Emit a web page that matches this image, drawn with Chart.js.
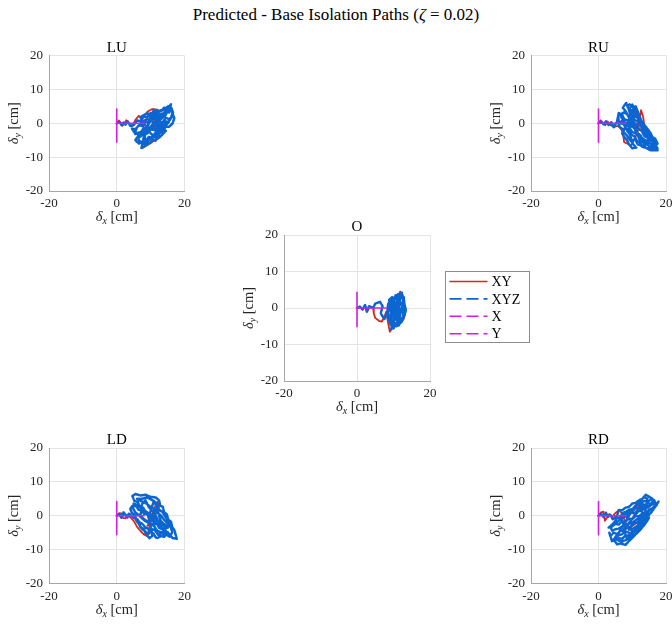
<!DOCTYPE html>
<html>
<head>
<meta charset="utf-8">
<script src="https://cdn.jsdelivr.net/npm/chart.js@4.4.1/dist/chart.umd.min.js"></script>
<style>
  body { margin: 0; background: #fff; }
  #wrap { position: relative; width: 672px; height: 624px; overflow: hidden; }
  #wrap canvas { position: absolute; left: 0; top: 0; }
  #title { position: absolute; left: 0; top: 5px; width: 672px; text-align: center;
           font-size: 17px; font-family: "Liberation Serif", LiberationSerif, "Times New Roman", Times, Tinos, "DejaVu Serif", serif; color: #000; }
</style>
</head>
<body>
<div id="wrap">
  <div id="title">Predicted - Base Isolation Paths (<i>ζ</i> = 0.02)</div>
  <canvas id="cLU" width="672" height="624"></canvas>
  <canvas id="cRU" width="672" height="624"></canvas>
  <canvas id="cO" width="672" height="624"></canvas>
  <canvas id="cLD" width="672" height="624"></canvas>
  <canvas id="cRD" width="672" height="624"></canvas>
</div>
<script>
// paths, [dx, dy] in cm

const seriesNames = ['XY', 'XYZ', 'X', 'Y'];
const xTicks = [-20, 0, 20];
const yTicks = [-20, -10, 0, 10, 20];

// pure X and pure Y excitation (same in every panel)
const xOnlyX = [0, 3, 1, 8.2, 2, 6.5, 0.5, 7.8, 0];
const yOnlyY = [0, 4.3, -2, 3, -5.6, 1, -4.5, 4, 0];

const luXY = [[0,0],[0.6,0.8],[1.2,0.2],[1.6,-0.8],[2.2,-0.2],[2.8,0.9],[3.5,0.2],[4.5,-1],[5.5,1],[6.5,2.2],[7.5,1.2],[8,-2],[8.5,-5.5],[8,-7],[9.5,-6.2],[10.5,-4.8],[11.5,-5.3],[12,-3.5],[11,-1],[10,1.5],[9,3.4],[10.5,4.2],[12,4],[11,0],[12.5,-1],[13.5,-3],[14.3,-1.5],[12,1],[10,-1],[9,-3],[10,-2],[11,-1]];
const luXYZ = [[0,0],[0.8,0.4],[1.4,-0.5],[2,0.3],[2.6,-0.4],[3.2,0.6],[4,-0.8],[5,-0.5],
  [6,0.8],[7,0.6],[8,2],[9,1.8],[10,3],[11,2.6],[12,3.8],[13,3.4],[14,4.6],[15,4.4],[16,5.6],
  [15.5,3.2],[14.5,3.4],[13.5,2.2],[12.5,2.4],[11.5,1.2],[10.5,1.4],[9.5,0.2],[8.5,0.4],[7.5,-0.8],[6.5,-0.6],[5.5,-1.8],[4.5,-1.6],
  [5.5,-3.2],[6.5,-2.8],[7.5,-2.4],[8.5,-1.4],[9.5,-1.8],[10.5,-0.4],[11.5,-0.8],[12.5,0.6],[13.5,0.2],[14.5,1.6],[15.5,1.2],[16.5,2.2],
  [15,0],[14,-0.2],[13,-1.2],[12,-1],[11,-2],[10,-1.8],[9,-3],[8,-2.8],[7,-4],[6,-4.2],[5.5,-5],
  [6.5,-6],[7.5,-5.4],[8.5,-5.2],[9.5,-4],[10.5,-4.4],[11.5,-3],[12.5,-3.2],[13.5,-2],[14.5,-2.2],
  [13,-3.8],[12,-4.6],[11,-5],[10,-5.8],[9,-6.2],[8,-7],[7.3,-7.3],
  [8,-4],[9,-1],[10,2],[11,4],[12,1],[13,-2],[12,-4.5],[10,-3],[8,0],[7,1.8],[9,3],[11,0],[13,2],[14.5,3.8],[16,4],[17,1.5],[16.5,0],[15.5,-1],[14,-1],[12,-2.5],[10,-1],
  [9,-2],[8,-3.6],[6.8,-3.4],[7.8,-1.6],[9,-1],[10,0.8],[11,1.8],[12,2.8],[13,2.6],[14,3],[15,3.6],[14.4,2.4],[13,1.2],[12,0.2],[11,-0.6],[10,-1.2],[9,-2],[8,-4.5],[9.5,-5],[10.8,-3.6],[12,-2],[13,-0.4],[14.2,0.6],[15.4,0.4],[14.2,-1],[13,-2.6],[11.6,-3.8],[10,-4.6],[8.8,-5.8],[7.6,-6.2],[6.5,-5],[6.2,-3],[5.4,-2.6],[6,-1.2],[7.2,0],[8.4,1],[9.6,1.2],[10.6,2.2],[11.8,2.4],[12.8,3.8],[14,4],[15.2,5],[16,4.8],[16.6,3.2],[16,1.8]];

const ruXY = [[0,0],[0.6,0.9],[1.3,-0.1],[2,-0.6],[2.7,0.5],[3.5,-0.5],[4.6,-1.1],[5.8,-0.8],[6.5,-1.5],[7.2,-2.6],[7.6,-5.6],[8.9,-6.2],[9.6,-6.6],[10.5,-5],[11.5,-3],[12,-0.5],[12.6,3.9],[13.2,2],[13.5,0],[12.5,-2],[11,-1],[10,1],[11,2.5],[12,1],[11,-1.5]];
const ruXYZ = [[0,0],[0.8,0.5],[1.5,-0.3],[2.2,0.6],[3,-0.5],[3.8,0.3],[4.5,-1.2],[5.5,0.5],
  [6,3],[7,2.6],[7.6,1.2],[8.8,0.8],[9.4,-0.8],[10.6,-1.4],[11.2,-2.8],[12.4,-3.4],[13,-4.8],[14.2,-5.4],[15,-7],
  [16.5,-6.5],[17.5,-6],[16.8,-4.6],[15.8,-4],[15,-2.6],[14,-2],[13.4,-0.4],[12.2,0.2],[11.6,1.6],[10.4,2.2],[9.8,3.8],[8.8,4.4],[8.2,6],
  [7.2,4.6],[8,3.6],[8.8,2.2],[9.6,1.8],[10.4,0.2],[11.2,-0.2],[12,-1.8],[12.8,-2.2],[13.6,-3.8],[14.4,-4.2],[15.2,-5.8],[16.2,-6.6],[17.5,-8],
  [15.5,-8],[14,-7.2],[13,-7],[12.2,-5.6],[11.4,-5.2],[10.6,-3.8],[9.8,-3.4],[9,-2],[8.2,-1.6],[7.4,-0.2],[6.6,0],[5.6,1.2],
  [6.2,-1],[7,-1.6],[7.6,-2.8],[8.4,-3.6],[9,-4.6],[9.8,-5.4],[10.4,-6.4],[11.2,-7.2],
  [10,-7.4],[9.2,-6.4],[8.4,-5],[7.6,-4],[7,-3],
  [8,-1],[9,1],[10,3],[11,5],[12,2.5],[13,0],[14,-3],[15,-5],[13.5,-6],[12,-4.5],[11,-2],[10,0.5],[9,4],[10,5.5],[11,4],[12.5,1],[14,-1],[15.5,-3],[16.5,-5.5],[17.5,-7.5],
  [11,-3],[10,-2.6],[9,-1.2],[8,0],[7,1.4],[6.4,2.4],[7.4,3.2],[8.4,2.8],[9.4,1],[10.2,-0.8],[11,-1.6],[11.8,-3.6],[12.8,-4.2],[13.6,-5.8],[14.6,-6.4],[15.6,-7.4],[16.6,-7.6],[16,-5.6],[15,-4],[14.2,-3.2],[13.4,-1.8],[12.6,-1],[11.8,0.6],[11,0.8],[10.4,1.4],[9.4,3],[8.6,5],[9.2,5.6],[10.2,4.6],[10.8,3],[11.8,2],[12.2,0.8],[13,-1.2],[13.8,-2.8],[14.8,-3.2],[15.6,-4.6],[14.6,-5],[13.8,-6.6],[12.6,-6.6],[11.6,-6.2],[10.8,-4.6],[10,-5.4],[9.2,-3.2],[8.6,-2.4],[7.8,-0.8],[6.8,0.6],[6.2,-0.2],[5.8,2]];

const oXY = [[0,0],[0.8,0.5],[1.5,-0.5],[2.2,0.8],[2.8,-1],[3.5,0.3],[4.4,0.2],[4.6,-1.5],[5,-2.7],[6,-3.5],[6.8,-3.7],[7.5,-2.5],[8,-1],[8.5,-4],[9,-6.5],[9.8,-5],[10.5,-3],[11,0],[11.5,2.5],[11.8,4.5],[12.5,3.5],[12.8,1],[13.2,-1.4],[12.8,-3],[12,-4],[11,-2],[10,0],[9.5,-2]];
const oXYZ = [[0,0],[0.8,0.3],[1.5,-0.4],[2.2,0.8],[2.7,-1],[3.3,0.5],[4.4,0],[5,1.2],[6.3,1.7],[7,0.5],[6.5,-1.5],[7.5,-3],[8.3,-1.5],
  [8.5,1],[9,2],[9.5,0.5],[9.2,-2],[9.6,-4],[9.4,-5.8],[10,-4.5],[10.2,-2],[9.9,0],[10.3,2.5],[10.6,3.5],[11,1.5],[10.8,-1],[11.2,-3.5],[10.8,-5],[11.6,-4.2],[11.8,-2],[11.4,0.5],[11.8,2.5],[12.3,4.2],[12.6,2],[12.3,-0.5],[12.7,-2.5],[12.2,-3.8],[13,-2],[13.4,-0.5],[13,1],[12.8,3],[12,3.5],[11.5,3],[10.5,1],[9.5,-1],[8.8,-3],[8.3,-2],[8.8,0],[9.5,2.5],[10.5,-0.5],[11.5,-2],[12.5,0.5],[13,-1.5],[12,-4],[10.5,-3],[9.5,-2],[10,0.5],[11,-0.5],[12,1.5],
  [11,-1.5],[10.2,-3.2],[9.8,-1.5],[9.2,0.8],[8.8,2.2],[9.7,3],[10.4,1.2],[11.4,2],[11.2,3.8],[12,4],[12.4,3],[12.8,1.4],[13.2,-0.4],[12.6,-1.6],[11.8,-0.2],[11.4,-1.6],[12,-3],[11.6,-3.4],[10.6,-4.2],[10,-5.6],[9.2,-4.6],[8.6,-2.6],[8.4,-0.6],[9.6,-0.6],[10.6,-2.2],[11.4,-4.8],[12.4,-3]];

const ldXY = [[0,0],[0.7,0.8],[1.4,0.7],[1.8,-0.6],[2.6,-0.8],[3.2,0.3],[4,-0.5],[5,-1.5],[6,-3.3],[7,-4.5],[8,-5.5],[9,-6],[9.5,-4],[10,-1],[11,2],[12,4.2],[12.5,3],[12.3,1.5],[11,0],[10,-2],[9,-3],[10,-1.5],[11,0.5]];
const ldXYZ = [[0,0],[0.8,0.4],[1.4,-0.6],[2,1],[2.6,0.3],[3.2,-0.5],[3.6,0.6],
  [4.5,-0.2],[5.2,-0.8],[6,-1],[6.8,-2],[7.6,-2.4],[8.4,-3.4],[9.2,-3.8],[10,-4.8],[10.8,-5.2],[11.5,-6.4],[12,-6.6],
  [13,-6],[14,-6.2],[14.8,-5],[14.2,-4],[13.2,-3.6],[12.6,-2.4],[11.6,-2],[11,-0.8],[10,-0.4],[9.4,0.8],[8.4,1.2],[7.8,2.4],[6.8,2.8],[6.2,4],[5.2,4.4],[4.6,5.8],
  [5.5,6.4],[7,6],[8.5,6.2],[10,5.6],[11.5,5.4],[12.5,4.6],[12.8,3],[13.6,2.6],[14,1],[14.8,0.4],[15.2,-1.2],[16,-1.8],[16.4,-3.4],[17,-4.2],[17.7,-6.8],
  [16.5,-6.6],[15.6,-5.6],[15,-4.8],[14.2,-4.8],[13.5,-4],[12.5,-3.6],[12,-2.6],[11,-2.2],[10.5,-1.2],[9.5,-0.8],[9,0.4],[8,0.6],[7.4,1.6],[6.4,1.8],[5.8,2.8],[4.6,3],[4,2],
  [4.5,0.8],[5.4,0.2],[5.8,-1.5],[6.8,-2.8],[7.5,-4],[8.5,-4.6],[9,-5.8],[9.6,-6.6],[10.5,-6],
  [10,-3],[9.5,-1],[10,1.5],[10.5,3],[11,4.4],[12,2],[12.5,0],[13,-1.5],[14,-2.5],[15,-3],[13.5,-5],[12,-4.5],[11,-3],[8,-1],[7,0],[7.5,3.5],[8.5,4.5],[9.5,2.5],[11,1],[12,-1],
  [10.5,-2.8],[9.5,-2.2],[8.5,-1.6],[7.5,-0.8],[6.5,0.2],[5.5,1],[4.8,2.2],[5,3.6],[6,3.2],[7,2.4],[8,1.8],[9,1],[10,0.4],[11,-0.2],[12,-1.2],[13,-2.4],[14,-3.2],[15,-3.6],[15.6,-2.6],[14.8,-2],[13.8,-1],[13,0.2],[12,0.8],[11,2.2],[10,2.6],[9,3.4],[8,4],[7,4.4],[6,5],[7.5,5],[9,5.4],[10.5,4.6],[11.8,3.6],[12.4,1.8],[13.4,1.2],[14.4,-0.4],[15.4,-1.8],[16.4,-4.8],[15.6,-6.2],[14.6,-5.6],[13.2,-5.2],[12.2,-5.6],[11.2,-4.2],[10.4,-4],[9.6,-5.2],[8.6,-5.4],[8,-3.8],[7,-3.4],[6.4,-2]];

const rdXY = [[0,0],[0.6,0.9],[1.5,1.2],[1.9,-1.5],[2.6,-0.4],[3.2,0.5],[4,-0.3],[5,0.8],[6.2,1.7],[7,0.5],[8,-2],[9,-4.2],[10,-3],[11.5,-2],[12.4,-3.3],[13,-1],[12.9,2.2],[12,3],[11,1],[10,-1],[11,0]];
const rdXYZ = [[0,0],[0.8,0.6],[1.5,-0.4],[2.2,0.9],[2.8,-0.3],[3.5,0.4],[4.2,-1],
  [5,-0.4],[6,-0.8],[7,0.4],[8,0.2],[9,1.4],[10,1.2],[11,2.4],[12,2.2],[13,3.4],[14,3.2],[15,4.4],[16,5],
  [14,6.2],[13,5],[12,4.6],[11,3.8],[10,3.6],[9,2.6],[8,2.4],[7,1.6],[6,1.7],
  [5,-1.6],[4,-2.6],[3,-3.5],[4,-3.2],[5,-2.4],[6,-2.6],[7,-1.6],[8,-1.8],[9,-0.8],[10,-1],[11,0],[12,-0.2],[13,0.8],[14,0.6],[15,1.8],[16,2.2],[17,3.4],[17.8,4.2],
  [16.5,2.2],[15.5,0.8],[14.5,0.4],[13.5,-0.6],[12.5,-1],[11.5,-2],[10.5,-2.2],[9.5,-3.2],[8.5,-3.4],[7.5,-4.4],[6.5,-4.4],[5.5,-5.4],[4.5,-5],[3.5,-6],[3.2,-5],
  [4,-7.5],[5,-7.2],[6,-6.6],[7,-6.8],[8,-5.8],[9,-5.8],[10,-4.6],[11,-4.6],[12,-3.4],[13,-3.2],[14,-1.8],[15,-0.6],
  [13.5,-2.8],[12.5,-4],[11,-5.5],[10,-6.5],[9,-7.5],[8,-8.6],[6.5,-8.2],[5.5,-8.4],[4.5,-7],
  [6,-5],[7.5,-2.5],[9,0],[10.5,2.5],[12,4],[13.5,5.5],[14.5,5],[14,2],[13,-1],[11.5,-3],[10,-5.5],[8.5,-7],[7.5,-4],[9.5,-1.5],[11.5,1],[13,2.5],[15,3],[16.5,4.6],[17.2,3],
  [10,-2],[9,-2.4],[8,-3],[7,-3.2],[6,-3.8],[5,-4],[4,-4.4],[3.6,-3.2],[4.6,-2.4],[5.6,-1.8],[6.6,-1],[7.6,-0.4],[8.6,0],[9.6,0.8],[10.6,0.8],[11.6,1.4],[12.6,1.4],[13.6,2.2],[14.6,2.4],[15.6,3.2],[16.6,3.8],[15.2,3.4],[14.2,4.4],[13.2,4.2],[12.2,3.4],[11.2,3],[10.2,2],[9.2,1.8],[8.2,1.2],[7.2,0.8],[6.6,-0.2],[7.2,-2.2],[8.2,-2.6],[9.2,-4.2],[10.2,-3.8],[11.2,-3.2],[12.2,-2.6],[13.2,-1.8],[14.2,-1],[15,0.2],[14,-0.6],[13,-2.2],[12,-4.2],[11,-4],[10,-5.8],[9,-6.6],[8,-7.2],[7,-7.6],[6,-7.4],[5,-6.2],[6,-5.8],[7,-5.4],[8,-4.6],[9,-5],[10,-6]];

const RED = '#d8281c';
const BLUE = '#0b66d2';
const MAG = '#d21fe0';
const GRID = '#e4e4e4';
const AXIS = '#a6a6a6';
const TXT = '#262626';
const FONT = '"Liberation Serif", LiberationSerif, "Times New Roman", Times, Tinos, "DejaVu Serif", serif';
const W = 672, H = 624;
const AXW = 40, AXH = 40;

function pts(arr) {
    return arr.map(p => ({ x: p[0], y: p[1] }));
}

// δ with subscript, e.g. "δx [cm]"
function drawDeltaLabel(ctx, sub, cx, cy) {
    const big = '14.5px ' + FONT;
    const small = '10px ' + FONT;
    ctx.font = 'italic ' + big;
    const w1 = ctx.measureText('δ').width;
    ctx.font = 'italic ' + small;
    const w2 = ctx.measureText(sub).width;
    ctx.font = big;
    const w3 = ctx.measureText(' [cm]').width;
    let x = cx - (w1 + w2 + w3) / 2;
    ctx.textAlign = 'left';
    ctx.textBaseline = 'alphabetic';
    ctx.fillStyle = TXT;
    ctx.font = 'italic ' + big;
    ctx.fillText('δ', x, cy);
    x += w1;
    ctx.font = 'italic ' + small;
    ctx.fillText(sub, x, cy + 3);
    x += w2;
    ctx.font = big;
    ctx.fillText(' [cm]', x, cy);
}

const decor = {
    id: 'decor',
    afterDraw(chart, args, opts) {
        const ctx = chart.ctx;
        const ca = chart.chartArea;
        const mid = (ca.left + ca.right) / 2;
        ctx.save();
        // panel title
        ctx.fillStyle = '#000';
        ctx.font = '15px ' + FONT;
        ctx.textAlign = 'center';
        ctx.textBaseline = 'alphabetic';
        ctx.fillText(opts.name, mid, ca.top - 4);
        // x label
        drawDeltaLabel(ctx, 'x', mid, ca.bottom + 30);
        // y label
        ctx.save();
        ctx.translate(ca.left - 31, (ca.top + ca.bottom) / 2);
        ctx.rotate(-Math.PI / 2);
        drawDeltaLabel(ctx, 'y', 0, 0);
        ctx.restore();

        if (opts.legend) {
            const bx = ca.right + 15.5, by = ca.top + 36.5;
            const bw = 84, bh = 71;
            ctx.fillStyle = '#fff';
            ctx.fillRect(bx, by, bw, bh);
            ctx.strokeStyle = '#8c8c8c';
            ctx.lineWidth = 1;
            ctx.strokeRect(bx, by, bw, bh);
            chart.data.datasets.forEach((ds, i) => {
                const y = by + 10 + i * 17.4;
                ctx.beginPath();
                ctx.strokeStyle = ds.borderColor;
                ctx.lineWidth = 1.6;
                ctx.setLineDash(i === 0 ? [] : [12, 5]);
                ctx.moveTo(bx + 4, y);
                ctx.lineTo(bx + 42, y);
                ctx.stroke();
                ctx.setLineDash([]);
                ctx.fillStyle = '#000';
                ctx.font = '14px ' + FONT;
                ctx.textAlign = 'left';
                ctx.textBaseline = 'middle';
                ctx.fillText(ds.label, bx + 46, y + 1);
            });
        }
        ctx.restore();
    }
};

function makePlot(id, name, area, xy, xyz, withLegend) {
    const tickFont = { family: FONT, size: 13 };
    return new Chart(document.getElementById(id), {
        type: 'scatter',
        data: {
            datasets: [
                { label: seriesNames[0], data: pts(xy), borderColor: RED, borderWidth: 1.8, showLine: true, order: 4 },
                { label: seriesNames[1], data: pts(xyz), borderColor: BLUE, borderWidth: 2.5, borderDash: [9, 1.5], showLine: true, order: 3 },
                { label: seriesNames[2], data: xOnlyX.map(v => ({ x: v, y: 0 })), borderColor: MAG, borderWidth: 1.6, borderDash: [11, 4], showLine: true, order: 2 },
                { label: seriesNames[3], data: yOnlyY.map(v => ({ x: 0, y: v })), borderColor: MAG, borderWidth: 1.6, borderDash: [11, 4], showLine: true, order: 1 }
            ]
        },
        options: {
            responsive: false,
            animation: false,
            events: [],
            elements: {
                point: { radius: 0, hoverRadius: 0 },
                line: { tension: 0, fill: false, borderJoinStyle: 'round', borderCapStyle: 'round' }
            },
            layout: {
                padding: { left: area.l - AXW, top: area.t, right: W - area.r, bottom: H - area.b - AXH }
            },
            plugins: {
                legend: { display: false },
                tooltip: { enabled: false },
                decor: { name: name, legend: withLegend }
            },
            scales: {
                x: {
                    type: 'linear', min: -20, max: 20,
                    afterBuildTicks: s => { s.ticks = xTicks.map(v => ({ value: v })); },
                    afterFit: s => { s.height = AXH; s.paddingLeft = 0; s.paddingRight = 0; },
                    ticks: { font: tickFont, color: TXT, padding: 5, maxRotation: 0 },
                    grid: { color: GRID, drawTicks: false },
                    border: { color: AXIS }
                },
                y: {
                    type: 'linear', min: -20, max: 20,
                    afterBuildTicks: s => { s.ticks = yTicks.map(v => ({ value: v })); },
                    afterFit: s => { s.width = AXW; s.paddingTop = 0; s.paddingBottom = 0; },
                    ticks: { font: tickFont, color: TXT, padding: 6 },
                    grid: { color: GRID, drawTicks: false },
                    border: { color: AXIS }
                }
            }
        },
        plugins: [decor]
    });
}

makePlot('cLU', 'LU', { l: 49, t: 55.5, r: 184.5, b: 191 }, luXY, luXYZ, false);
makePlot('cRU', 'RU', { l: 531, t: 55.5, r: 666, b: 191 }, ruXY, ruXYZ, false);
makePlot('cO', 'O', { l: 284, t: 235, r: 430, b: 381 }, oXY, oXYZ, true);
makePlot('cLD', 'LD', { l: 49, t: 448, r: 184.5, b: 583.5 }, ldXY, ldXYZ, false);
makePlot('cRD', 'RD', { l: 531, t: 448, r: 666, b: 583.5 }, rdXY, rdXYZ, false);
</script>
</body>
</html>
